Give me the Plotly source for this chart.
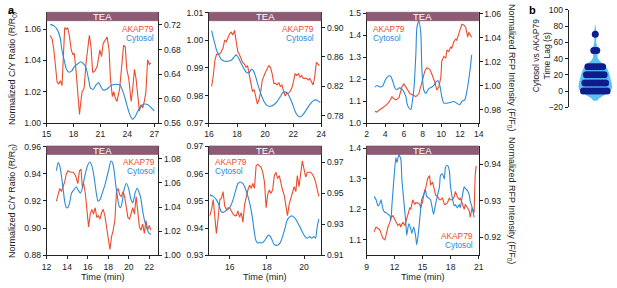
import plotly.graph_objects as go

# ---------------- data ----------------
p1_red_t = [15.37,15.62,15.81,15.99,16.17,16.36,16.54,16.72,16.91,17.02,17.20,17.35,17.53,17.75,17.94,18.08,18.27,18.45,18.67,18.82,18.96,19.18,19.40,19.66,19.77,19.95,20.14,20.39,20.65,20.94,21.13,21.31,21.50,21.75,21.97,22.12,22.34,22.49,22.67,22.85,23.15,23.44,23.59,23.77,23.95,24.17,24.43,24.61,24.80,24.98,25.17,25.35,25.53,25.72,25.90,26.08,26.27,26.45,26.63]
p1_red_v = [1.0559,1.0538,1.0467,1.0343,1.0261,1.0251,1.0271,1.0240,1.0446,1.0610,1.0600,1.0610,1.0560,1.0467,1.0436,1.0446,1.0343,1.0200,1.0055,1.0138,1.0200,1.0220,1.0384,1.0508,1.0560,1.0487,1.0323,1.0333,1.0364,1.0467,1.0425,1.0508,1.0528,1.0549,1.0467,1.0282,1.0169,1.0200,1.0158,1.0138,1.0220,1.0405,1.0497,1.0487,1.0343,1.0282,1.0138,1.0220,1.0343,1.0282,1.0179,1.0076,1.0117,1.0097,1.0138,1.0200,1.0405,1.0374,1.0384]
p1_blue_t = [15.4,15.8,16.2,16.5,16.7,17.0,17.2,17.5,17.8,18.1,18.5,18.8,19.1,19.4,19.7,19.9,20.2,20.5,20.8,21.0,21.3,21.7,22.0,22.3,22.6,23.0,23.2,23.5,23.8,24.1,24.4,24.6,24.9,25.2,25.5,25.9,26.3,26.6,27.0]
p1_blue_v = [0.721,0.719,0.712,0.700,0.680,0.660,0.648,0.643,0.645,0.652,0.657,0.660,0.657,0.650,0.630,0.617,0.615,0.622,0.626,0.621,0.614,0.615,0.619,0.622,0.623,0.623,0.622,0.612,0.598,0.582,0.570,0.566,0.571,0.580,0.587,0.591,0.590,0.586,0.580]

p2_red_t = [16.19,16.30,16.42,16.54,16.70,16.84,17.00,17.12,17.24,17.35,17.47,17.59,17.70,17.82,17.94,18.05,18.17,18.29,18.40,18.52,18.64,18.75,18.87,18.99,19.10,19.22,19.34,19.45,19.57,19.69,19.80,19.92,20.03,20.15,20.27,20.38,20.50,20.62,20.73,20.85,20.97,21.08,21.20,21.32,21.43,21.55,21.67,21.78,21.90,22.02,22.13,22.25,22.37,22.48,22.60,22.72,22.83,22.95,23.07,23.18,23.30,23.42,23.53,23.65,23.77,23.88]
p2_red_v = [0.9833,0.9867,0.9926,0.9949,0.9949,0.9955,0.9972,1.0001,0.9995,1.0013,1.0024,1.0030,1.0019,1.0036,0.9995,0.9960,0.9949,0.9931,0.9920,0.9914,0.9902,0.9908,0.9873,0.9844,0.9815,0.9821,0.9786,0.9769,0.9786,0.9815,0.9856,0.9873,0.9885,0.9897,0.9908,0.9902,0.9879,0.9844,0.9844,0.9838,0.9847,0.9833,0.9838,0.9815,0.9798,0.9809,0.9809,0.9815,0.9827,0.9850,0.9879,0.9873,0.9879,0.9867,0.9873,0.9862,0.9862,0.9862,0.9856,0.9862,0.9850,0.9838,0.9867,0.9920,0.9914,0.9908]
p2_blue_t = [16.19,16.30,16.42,16.54,16.70,16.89,17.12,17.35,17.59,17.82,17.94,18.05,18.17,18.33,18.52,18.68,18.87,19.03,19.17,19.34,19.50,19.69,19.92,20.15,20.38,20.62,20.85,21.08,21.27,21.43,21.60,21.78,21.97,22.13,22.30,22.48,22.65,22.83,22.99,23.18,23.42,23.60,23.77,23.93]
p2_blue_v = [0.8956,0.8869,0.8782,0.8695,0.8629,0.8563,0.8542,0.8542,0.8555,0.8607,0.8629,0.8607,0.8563,0.8498,0.8433,0.8389,0.8389,0.8433,0.8411,0.8324,0.8214,0.8105,0.7996,0.7940,0.7931,0.7953,0.7996,0.8062,0.8118,0.8127,0.8105,0.8040,0.7953,0.7865,0.7809,0.7787,0.7809,0.7852,0.7900,0.7953,0.8005,0.8018,0.8005,0.7983]

p3_red_t = [2.91,3.12,3.33,3.65,3.87,4.08,4.40,4.72,4.93,5.15,5.47,5.79,6.00,6.21,6.43,6.64,6.96,7.28,7.60,7.92,8.24,8.45,8.77,8.99,9.31,9.52,9.73,9.95,10.05,10.27,10.48,10.59,10.80,11.01,11.12,11.33,11.55,11.65,11.87,12.08,12.19,12.40,12.61,12.83,12.93,13.15,13.25]
p3_red_v = [1.053,1.050,1.058,1.068,1.075,1.080,1.095,1.120,1.110,1.105,1.115,1.165,1.178,1.164,1.145,1.134,1.127,1.120,1.134,1.186,1.237,1.251,1.244,1.222,1.186,1.150,1.164,1.207,1.281,1.303,1.295,1.332,1.325,1.346,1.339,1.368,1.383,1.375,1.412,1.434,1.449,1.446,1.434,1.390,1.412,1.397,1.390]
p3_blue_t = [2.91,3.12,3.44,3.76,3.97,4.19,4.40,4.61,4.83,5.04,5.25,5.47,5.79,6.00,6.21,6.32,6.53,6.75,6.85,7.07,7.28,7.39,7.60,7.81,7.92,8.13,8.35,8.45,8.67,8.99,9.20,9.41,9.63,9.84,10.05,10.27,10.59,11.01,11.33,11.65,11.97,12.19,12.51,12.72,13.04,13.25]
p3_blue_v = [0.9988,1.000,0.9988,1.000,1.004,1.0068,1.0082,1.0075,1.003,0.998,0.9965,0.998,0.997,0.9947,0.9907,0.9853,0.9813,0.980,0.984,0.9974,1.027,1.0485,1.0538,1.0431,1.0135,0.9961,0.9934,0.9947,0.9974,0.9988,1.0001,1.0028,1.0042,1.0001,0.9907,0.9853,0.9853,0.9861,0.9867,0.9853,0.984,0.9867,0.9881,0.9947,1.0109,1.0256]

p4_red_t = [12.96,13.12,13.28,13.44,13.60,13.76,13.92,14.08,14.33,14.59,14.81,15.04,15.20,15.35,15.48,15.61,15.77,15.93,16.09,16.25,16.41,16.57,16.73,16.89,17.04,17.20,17.36,17.52,17.68,17.84,18.00,18.17,18.33,18.49,18.65,18.81,18.97,19.12,19.28,19.44,19.60,19.76,19.92,20.08,20.24,20.40,20.56,20.72,20.88,21.04,21.20,21.36,21.52,21.68,21.84,22.00,22.16]
p4_red_v = [0.9198,0.9245,0.9292,0.9269,0.9304,0.9340,0.9399,0.9422,0.9411,0.9411,0.9387,0.9328,0.9422,0.9434,0.9304,0.9328,0.9257,0.9103,0.9008,0.9103,0.9138,0.9103,0.9150,0.9079,0.9091,0.9067,0.9115,0.9138,0.9091,0.9008,0.8937,0.8843,0.8937,0.8985,0.9056,0.9269,0.9292,0.9245,0.9233,0.9269,0.9233,0.9150,0.9079,0.9067,0.9115,0.9150,0.9103,0.9233,0.9127,0.9008,0.8985,0.9032,0.8961,0.9056,0.8985,0.9020,0.8985]
p4_blue_t = [12.96,13.12,13.28,13.44,13.60,13.76,13.92,14.08,14.24,14.43,14.65,14.88,15.07,15.29,15.48,15.67,15.93,16.19,16.41,16.63,16.82,17.01,17.20,17.42,17.68,17.91,18.10,18.26,18.42,18.58,18.74,18.90,19.06,19.22,19.38,19.54,19.76,19.99,20.18,20.40,20.62,20.82,20.98,21.17,21.36,21.58,21.78,22.00,22.16]
p4_blue_v = [1.0701,1.0768,1.0741,1.0661,1.0555,1.0448,1.0395,1.0395,1.0435,1.0515,1.0541,1.0568,1.0541,1.0515,1.0555,1.0635,1.0728,1.0773,1.0741,1.0648,1.0528,1.0448,1.0461,1.0515,1.0581,1.0661,1.0728,1.0781,1.0768,1.0701,1.0581,1.0488,1.0408,1.0395,1.0448,1.0541,1.0595,1.0555,1.0475,1.0435,1.0515,1.0555,1.0528,1.0475,1.0368,1.0275,1.0221,1.0181,1.0173]

p5_red_t = [14.93,15.02,15.11,15.20,15.28,15.38,15.47,15.56,15.64,15.73,15.82,15.91,16.00,16.09,16.18,16.27,16.36,16.44,16.53,16.62,16.71,16.80,16.89,16.98,17.07,17.16,17.24,17.33,17.42,17.51,17.60,17.69,17.78,17.87,17.96,18.04,18.13,18.22,18.31,18.40,18.49,18.58,18.67,18.76,18.84,18.93,19.02,19.11,19.20,19.29,19.38,19.47,19.56,19.64,19.73,19.82,19.91,20.00,20.09,20.18,20.27,20.36,20.44,20.53,20.62,20.71,20.80]
p5_red_v = [0.9446,0.9469,0.9505,0.9451,0.9380,0.9440,0.9505,0.9511,0.9534,0.9481,0.9469,0.9475,0.9475,0.9463,0.9451,0.9446,0.9446,0.9463,0.9440,0.9457,0.9422,0.9487,0.9517,0.9540,0.9558,0.9546,0.9564,0.9546,0.9629,0.9635,0.9629,0.9623,0.9605,0.9570,0.9475,0.9522,0.9540,0.9528,0.9540,0.9593,0.9605,0.9582,0.9593,0.9558,0.9540,0.9522,0.9487,0.9446,0.9487,0.9511,0.9534,0.9552,0.9534,0.9593,0.9552,0.9605,0.9647,0.9617,0.9588,0.9605,0.9605,0.9605,0.9599,0.9588,0.9570,0.9546,0.9517]
p5_blue_t = [14.93,15.11,15.28,15.41,15.52,15.64,15.77,15.91,16.05,16.18,16.30,16.44,16.57,16.71,16.84,16.98,17.11,17.22,17.31,17.40,17.49,17.60,17.73,17.84,17.96,18.08,18.19,18.28,18.37,18.49,18.62,18.73,18.84,18.97,19.08,19.20,19.33,19.47,19.60,19.71,19.82,19.95,20.05,20.18,20.31,20.41,20.53,20.62,20.71,20.80]
p5_blue_v = [0.9489,0.9479,0.9458,0.9427,0.9386,0.9375,0.9386,0.9396,0.9417,0.9458,0.9510,0.9561,0.9572,0.9561,0.9530,0.9479,0.9417,0.9344,0.9261,0.9199,0.9179,0.9183,0.9179,0.9189,0.9210,0.9230,0.9220,0.9199,0.9174,0.9164,0.9168,0.9183,0.9220,0.9272,0.9323,0.9344,0.9354,0.9344,0.9323,0.9299,0.9272,0.9241,0.9220,0.9210,0.9220,0.9210,0.9220,0.9210,0.9282,0.9334]

p6_red_t = [9.81,10.02,10.23,10.44,10.55,10.76,10.97,11.08,11.29,11.50,11.61,11.82,12.03,12.14,12.35,12.56,12.67,12.88,13.09,13.20,13.41,13.63,13.73,13.94,14.16,14.26,14.47,14.69,14.79,15.00,15.22,15.32,15.53,15.74,15.85,16.06,16.27,16.38,16.59,16.80,16.91,17.12,17.33,17.44,17.65,17.86,17.97,18.18,18.39,18.50,18.71,18.92,19.03,19.24,19.45,19.56,19.77,19.99,20.09,20.30,20.51,20.62,20.73]
p6_red_v = [1.126,1.142,1.137,1.132,1.121,1.105,1.100,1.116,1.142,1.158,1.174,1.179,1.168,1.158,1.147,1.152,1.142,1.158,1.147,1.158,1.184,1.205,1.200,1.231,1.216,1.221,1.221,1.216,1.205,1.226,1.263,1.268,1.300,1.310,1.279,1.289,1.263,1.247,1.242,1.231,1.231,1.237,1.216,1.216,1.221,1.237,1.231,1.231,1.242,1.258,1.242,1.231,1.237,1.221,1.200,1.216,1.205,1.195,1.174,1.205,1.189,1.310,1.342]
p6_blue_t = [9.81,10.02,10.23,10.44,10.55,10.76,10.97,11.08,11.29,11.50,11.61,11.72,11.93,12.14,12.25,12.46,12.67,12.78,12.99,13.20,13.30,13.52,13.73,13.84,14.05,14.26,14.37,14.58,14.79,14.90,15.11,15.32,15.43,15.64,15.85,15.96,16.17,16.38,16.49,16.80,16.91,17.12,17.33,17.44,17.65,17.86,17.97,18.18,18.39,18.50,18.71,18.92,19.03,19.24,19.45,19.56,19.77,19.99,20.09,20.30,20.51]
p6_blue_v = [0.9312,0.9303,0.9286,0.9294,0.9303,0.9277,0.9268,0.9268,0.9263,0.9259,0.9246,0.9290,0.9360,0.9418,0.9404,0.9426,0.9413,0.9360,0.9299,0.9241,0.9206,0.9237,0.9224,0.9211,0.9228,0.9202,0.9180,0.9220,0.9277,0.9303,0.9316,0.9329,0.9312,0.9308,0.9303,0.9290,0.9263,0.9290,0.9303,0.9338,0.9369,0.9374,0.9360,0.9391,0.9397,0.9382,0.9343,0.9308,0.9286,0.9290,0.9281,0.9290,0.9281,0.9312,0.9338,0.9334,0.9329,0.9316,0.9299,0.9281,0.9255]

swarm_lag_s = [0,0,0,0,0,0,0,0,0, 10,10,10,10,10,10,10,10, 20,20,20,20,20,20,20, 30,30,30,30,30,30, 50,50, 70]

# ---------------- style / layout ----------------
RED = "#ee4b2b"
BLUE = "#2b8ad6"
TEA = "#8d5b73"
AX = "#222222"
NAVY = "#0d1d8c"
LIGHT = "#5bc2f1"
FONT = "Liberation Sans, Arial, Helvetica, sans-serif"
W, H = 617, 288

def fx(px):
    return px / W

def fy(py):
    return 1 - py / H

cols = [(42.3, 156.0), (207.3, 321.5), (367.5, 481.5)]
rows = [(7.5, 122.3), (146.0, 259.3)]

panels = [
    dict(r=0, c=0, xr=[15, 27.48], xd=3, x0=15, yl=[1.0, 1.0708], yld=0.02, yl0=1.0, ylf=".2f",
         yr=[0.56, 0.7408], yrd=0.04, yr0=0.56, yrf=".2f",
         red=(p1_red_t, p1_red_v), blue=(p1_blue_t, p1_blue_v), leg=("right", 153, 25)),
    dict(r=0, c=1, xr=[16, 24], xd=2, x0=16, yl=[0.97, 1.0102], yld=0.01, yl0=0.97, ylf=".2f",
         yr=[0.7704, 0.9207], yrd=0.04, yr0=0.78, yrf=".2f",
         red=(p2_red_t, p2_red_v), blue=(p2_blue_t, p2_blue_v), leg=("right", 316, 25)),
    dict(r=0, c=2, xr=[2, 14], xd=2, x0=2, yl=[1.0, 1.5035], yld=0.1, yl0=1.0, ylf=".1f",
         yr=[0.9687, 1.0612], yrd=0.02, yr0=0.98, yrf=".2f",
         red=(p3_red_t, p3_red_v), blue=(p3_blue_t, p3_blue_v), leg=("left", 372.5, 25)),
    dict(r=1, c=0, xr=[12, 22.9], xd=2, x0=12, yl=[0.88, 0.9605], yld=0.02, yl0=0.88, ylf=".2f",
         yr=[1.0, 1.0906], yrd=0.02, yr0=1.0, yrf=".2f",
         red=(p4_red_t, p4_red_v), blue=(p4_blue_t, p4_blue_v), leg=("right", 154, 162.7)),
    dict(r=1, c=1, xr=[14.88, 20.93], xd=2, x0=16, yl=[0.93, 0.9702], yld=0.01, yl0=0.93, ylf=".2f",
         yr=[0.91, 0.9804], yrd=0.02, yr0=0.91, yrf=".2f",
         red=(p5_red_t, p5_red_v), blue=(p5_blue_t, p5_blue_v), leg=("left", 211.7, 162.7)),
    dict(r=1, c=2, xr=[9, 21], xd=3, x0=9, yl=[1.0495, 1.4073], yld=0.1, yl0=1.1, ylf=".1f",
         yr=[0.9151, 0.945], yrd=0.01, yr0=0.92, yrf=".2f",
         red=(p6_red_t, p6_red_v), blue=(p6_blue_t, p6_blue_v), leg=("right", 478, 239)),
]

fig = go.Figure()
layout = {}
shapes = []
annotations = []

axis_common = dict(showgrid=False, zeroline=False, showline=True, linecolor=AX, linewidth=0.8,
                   ticks="outside", ticklen=3, tickwidth=0.8, tickcolor=AX,
                   tickfont=dict(size=8.6, color=AX, family=FONT))

for i, p in enumerate(panels):
    k = i + 1
    xa = f"xaxis{k}" if k > 1 else "xaxis"
    ylk = k
    yrk = k + 6
    yla = f"yaxis{ylk}" if ylk > 1 else "yaxis"
    yra = f"yaxis{yrk}"
    xref = f"x{k}" if k > 1 else "x"
    ylref = f"y{ylk}" if ylk > 1 else "y"
    yrref = f"y{yrk}"
    cx = cols[p["c"]]
    ry = rows[p["r"]]
    layout[xa] = dict(axis_common, domain=[fx(cx[0]), fx(cx[1])], range=p["xr"], anchor=ylref,
                      tick0=p["x0"], dtick=p["xd"])
    layout[yla] = dict(axis_common, domain=[fy(ry[1]), fy(ry[0])], range=p["yl"], anchor=xref,
                       tick0=p["yl0"], dtick=p["yld"], tickformat=p["ylf"])
    layout[yra] = dict(axis_common, range=p["yr"], anchor=xref, overlaying=ylref, side="right",
                       tick0=p["yr0"], dtick=p["yrd"], tickformat=p["yrf"])
    fig.add_trace(go.Scatter(x=p["red"][0], y=p["red"][1], mode="lines", xaxis=xref, yaxis=ylref,
                             line=dict(color=RED, width=1.1), showlegend=False, hoverinfo="skip"))
    fig.add_trace(go.Scatter(x=p["blue"][0], y=p["blue"][1], mode="lines", xaxis=xref, yaxis=yrref,
                             line=dict(color=BLUE, width=1.1, shape="spline", smoothing=0.6),
                             showlegend=False, hoverinfo="skip"))
    # TEA bar
    shapes.append(dict(type="rect", xref="paper", yref="paper", x0=fx(cx[0]), x1=fx(cx[1]),
                       y0=fy(ry[0] + 8.8), y1=fy(ry[0]), fillcolor=TEA,
                       line=dict(color="#6e3f57", width=0.5), layer="above"))
    annotations.append(dict(text="TEA", xref="paper", yref="paper", x=fx((cx[0] + cx[1]) / 2),
                            y=fy(ry[0] + 4.6), showarrow=False, xanchor="center", yanchor="middle",
                            font=dict(size=9.5, color="white", family=FONT)))
    # legend labels
    side, lx, ly = p["leg"]
    for txt, col, dy in (("AKAP79", RED, 0), ("Cytosol", BLUE, 9.5)):
        annotations.append(dict(text=txt, xref="paper", yref="paper", x=fx(lx), y=fy(ly + dy),
                                showarrow=False, xanchor=side, yanchor="middle",
                                font=dict(size=8.3, color=col, family=FONT)))
    if p["r"] == 1:
        annotations.append(dict(text="Time (min)", xref="paper", yref="paper",
                                x=fx((cx[0] + cx[1]) / 2), y=fy(281.5), showarrow=False,
                                xanchor="center", yanchor="middle",
                                font=dict(size=9.2, color=AX, family=FONT)))

# axis titles
for ry in rows:
    cy = (ry[0] + ry[1]) / 2
    annotations.append(dict(text="Normalized C/Y Ratio (R/R<sub>0</sub>)", xref="paper", yref="paper",
                            x=fx(7.5), y=fy(cy), textangle=-90, showarrow=False,
                            xanchor="center", yanchor="middle",
                            font=dict(size=9, color=AX, family=FONT)))
    annotations.append(dict(text="Normalized RFP Intensity (F/F<sub>0</sub>)", xref="paper", yref="paper",
                            x=fx(515), y=fy(cy), textangle=90, showarrow=False,
                            xanchor="center", yanchor="middle",
                            font=dict(size=9, color=AX, family=FONT)))

# panel letters
annotations.append(dict(text="<b>a</b>", xref="paper", yref="paper", x=fx(1), y=fy(5),
                        showarrow=False, xanchor="left", yanchor="middle",
                        font=dict(size=11, color="black", family=FONT)))
annotations.append(dict(text="<b>b</b>", xref="paper", yref="paper", x=fx(531), y=fy(5),
                        showarrow=False, xanchor="left", yanchor="middle",
                        font=dict(size=11, color="black", family=FONT)))

# ---------------- panel b ----------------
layout["xaxis7"] = dict(domain=[fx(573), fx(617)], range=[-1.35, 0.85], visible=False, anchor="y13")
layout["yaxis13"] = dict(axis_common, domain=[fy(106), fy(5)], range=[-20, 100], anchor="x7",
                         tick0=-20, dtick=20)
fig.add_trace(go.Violin(y=swarm_lag_s, x0=0, xaxis="x7", yaxis="y13", points=False,
                        fillcolor=LIGHT, line=dict(width=0, color=LIGHT), bandwidth=6,
                        spanmode="soft", width=1.7, opacity=1, showlegend=False,
                        hoverinfo="skip"))
sx, sy = [], []
for v in sorted(set(swarm_lag_s)):
    n = swarm_lag_s.count(v)
    for j in range(n):
        sx.append((j - (n - 1) / 2) * 0.15)
        sy.append(v)
fig.add_trace(go.Scatter(x=sx, y=sy, mode="markers", xaxis="x7", yaxis="y13",
                         marker=dict(size=7, color=NAVY, line=dict(width=0)),
                         showlegend=False, hoverinfo="skip"))
annotations.append(dict(text="Cytosol vs AKAP79<br>Time Lag (s)", xref="paper", yref="paper",
                        x=fx(545), y=fy(52), textangle=-90, showarrow=False,
                        xanchor="center", yanchor="middle",
                        font=dict(size=8.5, color=AX, family=FONT)))

fig.update_layout(**layout)
fig.update_layout(width=W, height=H, margin=dict(l=0, r=0, t=0, b=0),
                  paper_bgcolor="white", plot_bgcolor="white",
                  font=dict(family=FONT, size=8, color=AX),
                  shapes=shapes, annotations=annotations, showlegend=False)

fig.write_html("out.html", config={"displayModeBar": False},
               post_script="document.body.style.margin='0';")
